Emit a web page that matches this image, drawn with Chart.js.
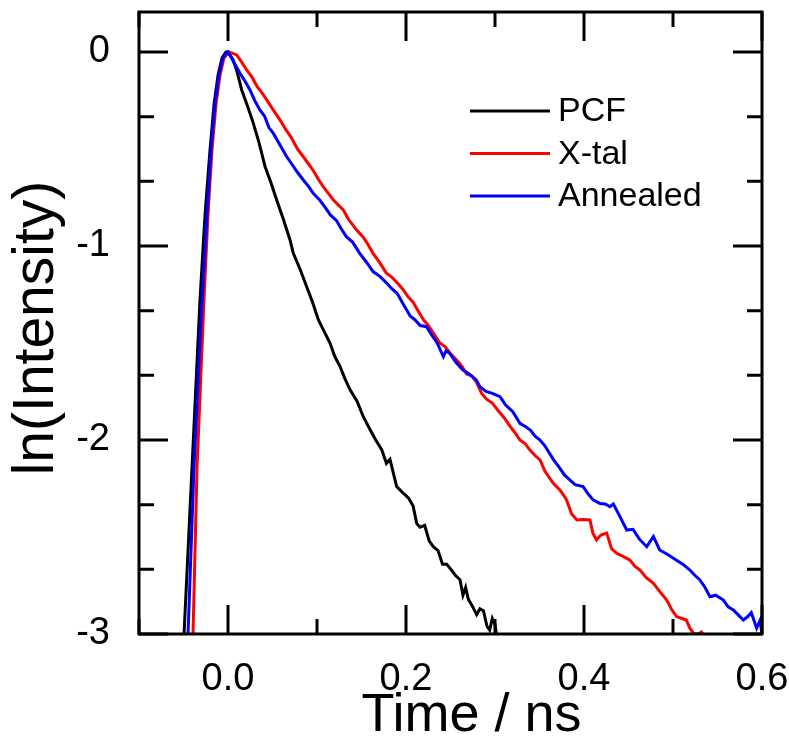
<!DOCTYPE html>
<html>
<head>
<meta charset="utf-8">
<script src="https://cdn.jsdelivr.net/npm/chart.js@4"></script>
<style>
  html, body { margin: 0; padding: 0; background: #fff; }
  canvas { display: block; }
</style>
</head>
<body>
<canvas id="decayChart" width="789" height="742"></canvas>
<script>
// values (time in ns, ln of intensity)
const pcfTime = [-0.052, -0.0494, -0.0404, -0.0315, -0.0258, -0.0202, -0.0157, -0.0112, -0.0067, -0.0022, 0,
  0.0056, 0.0101, 0.0154, 0.022, 0.0285, 0.035, 0.0416, 0.048, 0.0547, 0.062, 0.0697, 0.0734, 0.081, 0.0884,
  0.095, 0.1015, 0.108, 0.1146, 0.120, 0.1258, 0.131, 0.137, 0.145, 0.152, 0.160, 0.166, 0.1727, 0.178, 0.182,
  0.1895, 0.196, 0.203, 0.208, 0.212, 0.2157, 0.221, 0.226, 0.2307, 0.236, 0.241, 0.2457, 0.251, 0.256, 0.2607,
  0.264, 0.267, 0.27, 0.275, 0.2794, 0.283, 0.287, 0.291, 0.294, 0.297, 0.300, 0.303];
const pcfVal = [-3.3, -3.0, -2.14, -1.28, -0.84, -0.505, -0.27, -0.12, -0.03, 0, 0,
  -0.04, -0.10, -0.196, -0.28, -0.368, -0.47, -0.59, -0.67, -0.763, -0.86, -0.969, -1.038, -1.12, -1.21,
  -1.29, -1.38, -1.44, -1.50, -1.57, -1.62, -1.68, -1.74, -1.80, -1.88, -1.95, -2.00, -2.05, -2.12, -2.10,
  -2.24, -2.27, -2.30, -2.34, -2.43, -2.45, -2.44, -2.52, -2.55, -2.57, -2.64, -2.64, -2.67, -2.70, -2.72,
  -2.80, -2.76, -2.82, -2.86, -2.90, -2.87, -2.88, -2.96, -2.98, -2.92, -2.95, -3.05];

const xtalTime = [-0.0415, -0.0393, -0.0348, -0.027, -0.0225, -0.018, -0.0135, -0.009, -0.0045, 0.001,
  0.004, 0.0098, 0.015, 0.021, 0.027, 0.033, 0.038, 0.0435, 0.051, 0.0584, 0.065, 0.071, 0.078, 0.0846, 0.091,
  0.097, 0.102, 0.107, 0.113, 0.118, 0.122, 0.1296, 0.135, 0.1446, 0.152, 0.157, 0.163, 0.171, 0.178, 0.184,
  0.19, 0.196, 0.202, 0.208, 0.213, 0.2195, 0.225, 0.231, 0.238, 0.244, 0.251, 0.257, 0.263, 0.268, 0.274,
  0.279, 0.285, 0.2906, 0.297, 0.3056, 0.311, 0.317, 0.322, 0.328, 0.334, 0.339, 0.345, 0.3506, 0.356, 0.3605,
  0.3655, 0.373, 0.378, 0.3805, 0.386, 0.392, 0.399, 0.4067, 0.410, 0.414, 0.419, 0.4255, 0.431, 0.4367, 0.444,
  0.4517, 0.457, 0.463, 0.470, 0.478, 0.485, 0.493, 0.498, 0.504, 0.510, 0.515, 0.519, 0.523, 0.528, 0.532,
  0.536, 0.54];
const xtalVal = [-3.3, -3.0, -2.14, -1.28, -0.84, -0.505, -0.27, -0.12, -0.03, 0,
  -0.005, -0.015, -0.05, -0.093, -0.13, -0.18, -0.21, -0.247, -0.30, -0.35, -0.40, -0.44, -0.50, -0.54, -0.58,
  -0.62, -0.66, -0.694, -0.73, -0.76, -0.78, -0.814, -0.86, -0.918, -0.955, -0.99, -1.038, -1.09, -1.14, -1.16,
  -1.19, -1.22, -1.26, -1.29, -1.33, -1.38, -1.41, -1.45, -1.50, -1.52, -1.56, -1.588, -1.62, -1.66, -1.67,
  -1.70, -1.76, -1.79, -1.81, -1.86, -1.89, -1.93, -1.96, -2.00, -2.02, -2.05, -2.08, -2.103, -2.16, -2.19,
  -2.223, -2.258, -2.29, -2.31, -2.38, -2.412, -2.41, -2.412, -2.48, -2.515, -2.49, -2.48, -2.56, -2.584, -2.60,
  -2.619, -2.65, -2.67, -2.71, -2.739, -2.78, -2.825, -2.87, -2.91, -2.92, -2.928, -2.97, -2.997, -3.00, -2.99,
  -3.02, -3.08];

const annTime = [-0.047, -0.0449, -0.0382, -0.0292, -0.0236, -0.0191, -0.0146, -0.0101, -0.0056, 0,
  0.005, 0.0135, 0.019, 0.0247, 0.030, 0.036, 0.041, 0.046, 0.051, 0.056, 0.061, 0.066, 0.072, 0.078, 0.0846,
  0.090, 0.096, 0.103, 0.109, 0.115, 0.122, 0.127, 0.133, 0.140, 0.148, 0.155, 0.163, 0.171, 0.178, 0.184,
  0.19, 0.197, 0.2045, 0.210, 0.216, 0.223, 0.229, 0.235, 0.242, 0.245, 0.249, 0.256, 0.264, 0.271, 0.279,
  0.283, 0.290, 0.297, 0.3056, 0.312, 0.32, 0.328, 0.334, 0.340, 0.345, 0.3506, 0.356, 0.3655, 0.372, 0.378,
  0.384, 0.390, 0.399, 0.405, 0.4105, 0.418, 0.424, 0.429, 0.433, 0.4404, 0.448, 0.455, 0.462, 0.4705, 0.478,
  0.485, 0.494, 0.504, 0.511, 0.519, 0.525, 0.530, 0.536, 0.5416, 0.548, 0.5566, 0.562, 0.5678, 0.573, 0.579,
  0.584, 0.588, 0.594, 0.5978, 0.600];
const annVal = [-3.3, -3.0, -2.14, -1.28, -0.84, -0.505, -0.27, -0.12, -0.03, 0,
  -0.04, -0.11, -0.15, -0.196, -0.25, -0.30, -0.33, -0.39, -0.42, -0.46, -0.50, -0.54, -0.58, -0.62, -0.66,
  -0.69, -0.73, -0.763, -0.80, -0.84, -0.87, -0.91, -0.952, -0.98, -1.038, -1.08, -1.132, -1.158, -1.19, -1.22,
  -1.244, -1.30, -1.36, -1.38, -1.41, -1.416, -1.46, -1.50, -1.57, -1.54, -1.553, -1.60, -1.64, -1.66, -1.69,
  -1.725, -1.75, -1.76, -1.777, -1.82, -1.854, -1.914, -1.93, -1.95, -1.98, -2.00, -2.03, -2.10, -2.14, -2.18,
  -2.206, -2.23, -2.24, -2.28, -2.31, -2.327, -2.33, -2.344, -2.33, -2.395, -2.464, -2.46, -2.51, -2.55, -2.498,
  -2.567, -2.59, -2.62, -2.64, -2.67, -2.70, -2.72, -2.76, -2.808, -2.80, -2.825, -2.86, -2.876, -2.90, -2.928,
  -2.91, -2.89, -2.97, -2.93, -3.00];

const seriesNames = ['PCF', 'X-tal', 'Annealed'];
const seriesColors = ['#000000', '#ff0000', '#0000ff'];

const xTicks = [0.0, 0.2, 0.4, 0.6];
const xMinorTicks = [-0.1, 0.1, 0.3, 0.5];
const yTicks = [0, -1, -2, -3];
const yMinorTicks = [-1/3, -2/3, -4/3, -5/3, -7/3, -8/3];

const xTitle = 'Time / ns';
const yTitle = 'ln(Intensity)';

const FONT = '"Liberation Sans", Arial, sans-serif';

const toPoints = (ts, vs) => ts.map((t, i) => ({ x: t, y: vs[i] }));

const noPad = s => { s.paddingTop = 0; s.paddingBottom = 0; s.paddingLeft = 0; s.paddingRight = 0; };

// frame + inward ticks on all four sides, axis titles, and the legend inside the plot
const framePlugin = {
    id: 'frame',
    afterDatasetsDraw(chart) {
        const { ctx, chartArea: a, scales } = chart;
        const xs = scales.x, ys = scales.y;
        ctx.save();
        ctx.strokeStyle = '#000';
        ctx.lineWidth = 3;
        ctx.lineCap = 'butt';
        ctx.strokeRect(a.left, a.top, a.right - a.left, a.bottom - a.top);

        const majorLen = 29, minorLen = 15;
        const xTick = (v, len) => {
            const px = xs.getPixelForValue(v);
            ctx.beginPath();
            ctx.moveTo(px, a.bottom); ctx.lineTo(px, a.bottom - len);
            ctx.moveTo(px, a.top); ctx.lineTo(px, a.top + len);
            ctx.stroke();
        };
        const yTick = (v, len) => {
            const py = ys.getPixelForValue(v);
            ctx.beginPath();
            ctx.moveTo(a.left, py); ctx.lineTo(a.left + len, py);
            ctx.moveTo(a.right, py); ctx.lineTo(a.right - len, py);
            ctx.stroke();
        };
        xTicks.forEach(v => xTick(v, majorLen));
        xMinorTicks.forEach(v => xTick(v, minorLen));
        yTicks.forEach(v => yTick(v, majorLen));
        yMinorTicks.forEach(v => yTick(v, minorLen));

        // legend
        const lx0 = a.left + 331, lx1 = a.left + 411;
        ctx.font = '34px ' + FONT;
        ctx.textBaseline = 'middle';
        ctx.textAlign = 'left';
        seriesNames.forEach((name, i) => {
            const ly = a.top + 99 + i * 42.5;
            ctx.strokeStyle = seriesColors[i];
            ctx.beginPath();
            ctx.moveTo(lx0, ly); ctx.lineTo(lx1, ly);
            ctx.stroke();
            ctx.fillStyle = '#000';
            ctx.fillText(name, lx1 + 8, ly + 1);
        });

        // axis titles
        ctx.fillStyle = '#000';
        ctx.font = '54px ' + FONT;
        ctx.textAlign = 'center';
        ctx.textBaseline = 'alphabetic';
        ctx.fillText(xTitle, (a.left + a.right) / 2 + 21, 731);
        ctx.font = '57px ' + FONT;
        ctx.translate(53, (a.top + a.bottom) / 2 + 5);
        ctx.rotate(-Math.PI / 2);
        ctx.fillText(yTitle, 0, 0);
        ctx.restore();
    }
};

const datasets = [
    toPoints(pcfTime, pcfVal),
    toPoints(xtalTime, xtalVal),
    toPoints(annTime, annVal)
].map((pts, i) => ({
    label: seriesNames[i],
    data: pts,
    borderColor: seriesColors[i],
    borderWidth: 3,
    pointRadius: 0,
    fill: false,
    tension: 0,
    order: 3 - i
}));

new Chart(document.getElementById('decayChart'), {
    type: 'line',
    data: { datasets: datasets },
    plugins: [framePlugin],
    options: {
        responsive: false,
        animation: false,
        parsing: false,
        layout: { padding: { top: 12, right: 27, left: 0, bottom: 0 } },
        plugins: {
            legend: { display: false },
            tooltip: { enabled: false }
        },
        scales: {
            x: {
                type: 'linear',
                min: -0.1,
                max: 0.6,
                afterBuildTicks: s => { s.ticks = xTicks.map(v => ({ value: v })); },
                afterFit: s => { s.height = 108; noPad(s); },
                grid: { display: false, drawTicks: false },
                border: { display: false },
                ticks: {
                    padding: 23,
                    color: '#000',
                    font: { family: FONT, size: 38 },
                    maxRotation: 0,
                    callback: v => v.toFixed(1)
                },
                title: { display: false }
            },
            y: {
                type: 'linear',
                min: -3,
                max: 0.206,
                afterBuildTicks: s => { s.ticks = yTicks.map(v => ({ value: v })); },
                afterFit: s => { s.width = 139; noPad(s); },
                grid: { display: false, drawTicks: false },
                border: { display: false },
                ticks: {
                    padding: 29,
                    color: '#000',
                    font: { family: FONT, size: 38 },
                    callback: v => String(v)
                },
                title: { display: false }
            }
        }
    }
});
</script>
</body>
</html>
